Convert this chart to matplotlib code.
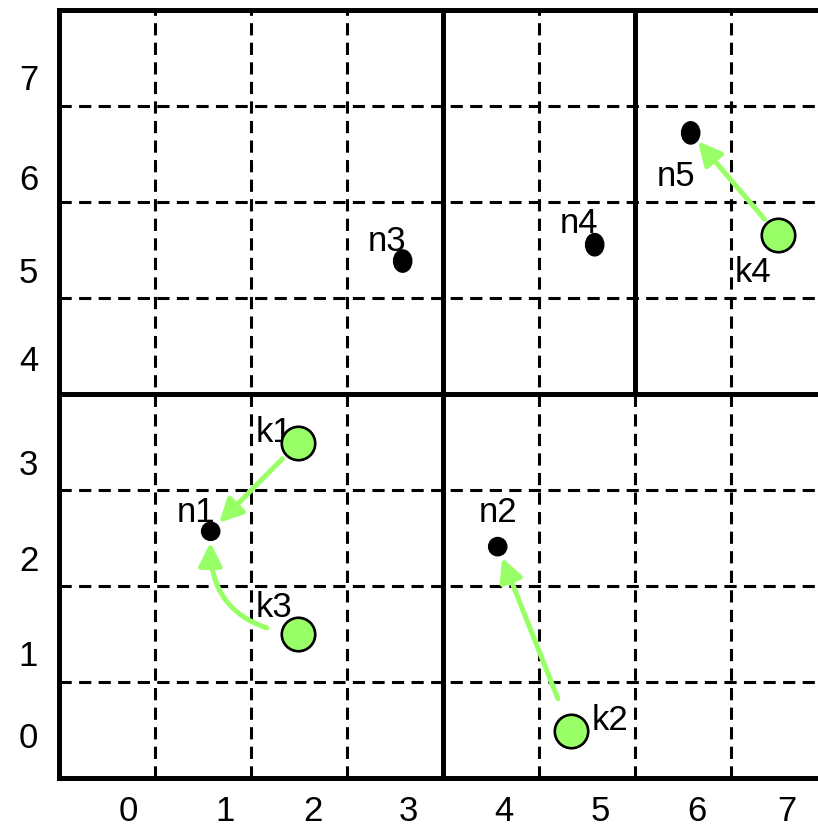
import matplotlib
matplotlib.use("Agg")
import matplotlib.pyplot as plt
from matplotlib.patches import Ellipse

plt.rcParams['font.family'] = ['Liberation Sans', 'DejaVu Sans']

# grid cells (data units = one cell)
n_cells = 8
dashed_x = [1, 2, 3, 5, 7]
dashed_y = [1, 2, 3, 5, 6, 7]

# tick labels (hand placed in the original)
x_tick_pos = [0.72, 1.73, 2.64, 3.64, 4.63, 5.64, 6.64, 7.58]
y_tick_pos = [0.45, 1.30, 2.29, 3.29, 4.375, 5.29, 6.26, 7.30]
tick_labels = ['0', '1', '2', '3', '4', '5', '6', '7']

# black nodes
n_names = ['n1', 'n2', 'n3', 'n4', 'n5']
n_x = [1.58, 4.57, 3.58, 5.58, 6.58]
n_y = [2.57, 2.41, 5.385, 5.555, 6.72]

# green points
k_names = ['k1', 'k2', 'k3', 'k4']
k_x = [2.49, 5.33, 2.49, 7.49]
k_y = [3.49, 0.49, 1.495, 5.656]

# arrows k -> n
links = [('k1', 'n1'), ('k2', 'n2'), ('k3', 'n1'), ('k4', 'n5')]

GREEN = '#99FF66'

fig = plt.figure(figsize=(8.18, 8.26), dpi=100)
ax = fig.add_axes([59 / 818, 48 / 826, 768 / 818, 768 / 826])
ax.set_xlim(0, n_cells)
ax.set_ylim(0, n_cells)

# dashed grid
dash_kw = dict(color='black', lw=2.2, dashes=(4, 2.4), zorder=1)
for x in dashed_x:
    ax.plot([x, x], [0, n_cells], **dash_kw)
ax.plot([6, 6], [0, 4], **dash_kw)
for y in dashed_y:
    ax.plot([0, n_cells], [y, y], **dash_kw)

# solid partition lines
solid_kw = dict(color='black', lw=3.6, zorder=2, solid_capstyle='butt')
ax.plot([4, 4], [0, n_cells], **solid_kw)
ax.plot([6, 6], [4, n_cells], **solid_kw)
ax.plot([0, n_cells], [4, 4], **solid_kw)

for s in ax.spines.values():
    s.set_linewidth(3.6)
    s.set_zorder(3)

ax.set_xticks(x_tick_pos)
ax.set_xticklabels(tick_labels)
ax.set_yticks(y_tick_pos)
ax.set_yticklabels(tick_labels)
ax.tick_params(length=0, labelsize=25, pad=15)
ax.tick_params(axis='x', pad=12)

# nodes (n3..n5 are slightly taller ellipses)
n_tall = [1.0, 1.0, 1.22, 1.22, 1.22]
for x, y, t in zip(n_x, n_y, n_tall):
    ax.add_patch(Ellipse((x, y), 0.19, 0.19 * t, color='black', zorder=5))

ax.scatter(k_x, k_y, s=580, color=GREEN, edgecolor='black', linewidth=1.9, zorder=7)

# labels
n_off = [(-10.8, 6.7), (0, 18), (-11.3, 7.4), (-11.5, 8.2), (-10.8, -38.4)]
k_off = [(-17.5, 0.7), (28.3, 0.5), (-17.5, 12.7), (-18.2, -33.6)]
for name, x, y, off in zip(n_names, n_x, n_y, n_off):
    ax.annotate(name, (x, y), xytext=off, textcoords='offset points',
                ha='center', va='baseline', fontsize=25, zorder=6)
for name, x, y, off in zip(k_names, k_x, k_y, k_off):
    ax.annotate(name, (x, y), xytext=off, textcoords='offset points',
                ha='center', va='baseline', fontsize=25, zorder=6)

# arrows
pos = {nm: (x, y) for nm, x, y in zip(n_names, n_x, n_y)}
pos.update({nm: (x, y) for nm, x, y in zip(k_names, k_x, k_y)})
shrink = {('k1', 'n1'): (16, 8.5), ('k2', 'n2'): (25, 8.5),
          ('k3', 'n1'): (23, 8), ('k4', 'n5'): (15, 8)}
rads = {('k3', 'n1'): -0.48}
for a, b in links:
    sa, sb = shrink[(a, b)]
    ax.annotate('', xy=pos[b], xytext=pos[a],
                arrowprops=dict(arrowstyle='-|>,head_length=0.7,head_width=0.35',
                                color=GREEN, lw=3.6, mutation_scale=20,
                                shrinkA=sa, shrinkB=sb,
                                connectionstyle='arc3,rad=%s' % rads.get((a, b), 0)),
                zorder=4)

fig.savefig('out.png', dpi=100)
